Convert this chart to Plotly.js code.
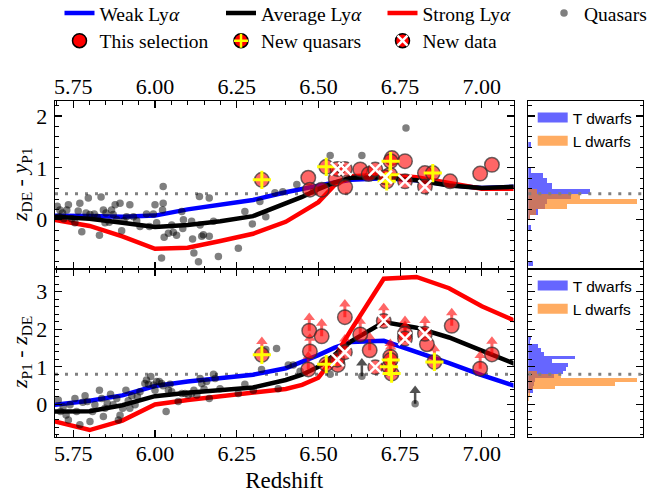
<!DOCTYPE html>
<html>
<head>
<meta charset="utf-8">
<script src="https://cdn.plot.ly/plotly-3.0.1.min.js"></script>
<style>
  html, body { margin: 0; padding: 0; background: #ffffff; }
  #chart { width: 670px; height: 493px; }
</style>
</head>
<body>
<div id="chart"></div>
<script>
// ---------- colour-track models (redshift grid) ----------
const zGrid     = [5.65, 5.70, 5.80, 5.90, 6.00, 6.10, 6.20, 6.30, 6.40, 6.45, 6.50, 6.55, 6.60, 6.70, 6.80, 6.90, 7.00, 7.10, 7.15];
const weakTop   = [0.08, 0.07, 0.07, 0.06, 0.08, 0.20, 0.30, 0.38, 0.53, 0.60, 0.66, 0.72, 0.77, 0.80, 0.76, 0.67, 0.61, 0.64, 0.65];
const avgTop    = [0.07, 0.06, 0.02, -0.06, -0.14, -0.10, -0.03, 0.07, 0.31, 0.44, 0.59, 0.72, 0.81, 0.82, 0.76, 0.66, 0.61, 0.64, 0.65];
const strongTop = [0.03, -0.01, -0.12, -0.32, -0.56, -0.54, -0.41, -0.27, -0.04, 0.15, 0.34, 0.67, 0.84, 0.87, 0.82, 0.71, 0.60, 0.60, 0.60];
const weakBot   = [-0.05, 0.00, 0.10, 0.24, 0.49, 0.61, 0.70, 0.79, 0.96, 1.12, 1.31, 1.51, 1.66, 1.69, 1.41, 1.10, 0.78, 0.50, 0.35];
const avgBot    = [-0.19, -0.19, -0.18, -0.02, 0.22, 0.31, 0.38, 0.45, 0.65, 0.79, 1.00, 1.32, 1.68, 2.19, 2.04, 1.78, 1.43, 1.08, 0.91];
const strongBot = [-0.36, -0.46, -0.68, -0.43, 0.00, 0.12, 0.21, 0.30, 0.41, 0.52, 0.71, 1.27, 1.98, 3.34, 3.39, 3.09, 2.61, 2.23, 2.03];

// ---------- known quasars ----------
const qsoTopZ = [5.701, 5.709, 5.717, 5.730, 5.735, 5.721, 5.707, 5.745, 5.755, 5.765, 5.770, 5.776, 5.789, 5.796, 5.801, 5.814, 5.823, 5.830, 5.835, 5.842, 5.847, 5.850, 5.860, 5.867, 5.872, 5.878, 5.883, 5.893, 5.898, 5.905, 5.913, 5.923, 5.934, 5.944, 5.954, 5.974, 5.983, 5.995, 6.000, 6.005, 6.020, 6.023, 6.025, 6.025, 6.028, 6.041, 6.051, 6.056, 6.066, 6.082, 6.085, 6.087, 6.112, 6.115, 6.119, 6.133, 6.136, 6.138, 6.143, 6.148, 6.166, 6.166, 6.179, 6.194, 6.255, 6.275, 6.298, 6.321, 6.339, 6.367, 6.391, 6.434, 6.485, 6.536, 6.633, 6.768];
const qsoTopC = [0.26, 0.19, 0.13, 0.19, 0.29, 0.02, 0.06, 0.02, -0.06, 0.17, 0.32, -0.23, 0.13, 0.42, 0.10, 0.11, 0.05, -0.30, 0.44, 0.19, -0.06, 0.13, -0.05, 0.19, 0.10, 0.29, 0.00, 0.32, -0.21, -0.02, 0.06, 0.29, 0.06, -0.02, -0.13, 0.11, -0.13, 0.11, 0.29, -0.06, -0.74, 0.19, 0.32, 0.64, -0.34, -0.26, -0.10, -0.24, -0.30, 0.16, -0.17, 0.00, -0.03, -0.37, -0.64, -0.81, 0.45, -0.10, -0.32, -0.29, 0.42, -0.32, -0.03, -0.71, -0.55, 0.16, -0.08, 0.35, 0.06, 0.52, 0.54, 0.68, 0.55, 1.24, 1.24, 1.77];
const qsoBotZ = [5.704, 5.711, 5.719, 5.728, 5.735, 5.740, 5.755, 5.760, 5.770, 5.779, 5.786, 5.793, 5.801, 5.809, 5.816, 5.830, 5.837, 5.842, 5.847, 5.854, 5.864, 5.872, 5.883, 5.888, 5.893, 5.901, 5.911, 5.918, 5.923, 5.929, 5.939, 5.946, 5.954, 5.969, 5.974, 5.980, 5.987, 5.995, 6.000, 6.005, 6.013, 6.020, 6.025, 6.034, 6.041, 6.046, 6.051, 6.071, 6.082, 6.092, 6.102, 6.112, 6.119, 6.128, 6.138, 6.143, 6.150, 6.158, 6.166, 6.179, 6.184, 6.199, 6.255, 6.275, 6.301, 6.326, 6.339, 6.372, 6.377, 6.408, 6.423, 6.444, 6.536];
const qsoBotC = [0.12, -0.19, -0.06, -0.28, -0.41, -0.01, 0.16, -0.19, -0.54, 0.06, 0.23, 0.08, -0.45, -0.19, -0.01, 0.38, 0.16, -0.32, -0.10, 0.03, 0.27, -0.01, 0.16, -0.41, -0.29, -0.10, 0.38, 0.10, -0.10, 0.23, -0.01, 0.21, 0.34, 0.56, 0.65, 0.54, 0.74, 0.52, 0.38, 0.61, 0.61, 0.56, 0.50, -0.19, 0.38, 0.54, 0.34, 0.08, 0.29, 0.29, 0.25, 0.29, 0.38, 0.25, 0.69, 0.56, 0.41, 0.61, 0.16, 0.80, 0.69, 0.42, 0.29, 0.54, 0.38, 0.93, 1.46, 1.49, 0.42, 1.05, 1.05, 0.88, 0.80];
// quasars with z_P1 - z_DE lower limits
const qsoLimZ = [6.633, 6.796];
const qsoLimC = [0.75, 0.02];

// ---------- this selection: z_DE - y_P1 ----------
const selTopZ     = [6.469, 6.474, 6.510, 6.553, 6.582, 6.628, 6.654, 6.725, 6.765, 6.826, 6.903, 6.995, 7.031];
const selTopC     = [0.81, 0.58, 0.58, 0.79, 0.63, 0.97, 0.88, 1.19, 1.13, 0.90, 0.74, 0.89, 1.06];
const newQsoTopZ  = [6.327, 6.524, 6.709, 6.719, 6.721, 6.850];
const newQsoTopC  = [0.77, 1.02, 0.74, 0.87, 1.13, 0.90];
const newDataTopZ = [6.558, 6.581, 6.674, 6.705, 6.765, 6.826];
const newDataTopC = [0.98, 0.98, 0.97, 0.82, 0.74, 0.64];

// ---------- this selection: z_P1 - z_DE (1 = lower limit) ----------
const selBotZ       = [6.469, 6.472, 6.474, 6.510, 6.559, 6.581, 6.628, 6.657, 6.720, 6.765, 6.832, 6.908, 6.995, 7.031];
const selBotC       = [0.93, 1.96, 1.41, 1.81, 1.05, 2.32, 1.86, 1.44, 1.27, 1.88, 1.60, 2.09, 0.95, 1.33];
const selBotLim     = [1, 1, 1, 1, 0, 1, 1, 1, 1, 1, 0, 1, 1, 1];
const newQsoBotZ    = [6.327, 6.524, 6.724, 6.716, 6.721, 6.855];
const newQsoBotC    = [1.32, 1.07, 0.82, 1.00, 1.18, 1.13];
const newQsoBotLim  = [1, 0, 0, 0, 1, 1];
const newDataBotZ   = [6.558, 6.581, 6.674, 6.700, 6.765, 6.826];
const newDataBotC   = [1.19, 1.39, 0.99, 2.22, 1.75, 1.88];
const newDataBotLim = [0, 1, 0, 1, 1, 1];

// ---------- brown-dwarf colour histograms ----------
const histTopBins = [1.45, 0.95, 0.85, 0.75, 0.65, 0.55, 0.45, 0.35, 0.25, 0.15, 0.05, -0.15, -0.85];
const tDwarfTop   = [2.7, 2.7, 14.3, 18.3, 23.3, 61.7, 42.7, 18.3, 16.7, 9.3, 2.0, 2.7, 4.3];
const lDwarfTop   = [0, 0, 0, 0, 0, 8.3, 51.7, 109.3, 39.3, 7.7, 2.0, 0, 0];
const histBotBins = [1.75, 1.65, 1.55, 1.45, 1.35, 1.25, 1.15, 1.05, 0.95, 0.85, 0.75, 0.65, 0.55, 0.45, 0.35, 0.25, 0.15];
const tDwarfBot   = [2.7, 2.0, 9.3, 12.3, 15.7, 46.7, 23.3, 40.0, 37.7, 34.3, 25.7, 6.7, 6.0, 5.0, 5.0, 0, 0];
const lDwarfBot   = [0, 0, 0, 0, 0, 0, 0, 0, 0, 8.3, 32.7, 109.3, 87.3, 26.7, 2.0, 1.7, 0.7];
const histBinWidth = 0.1;

// selection cuts
const cutTop = 0.5;
const cutBot = 0.8;

// ---------- styling ----------
const SERIF = '"Liberation Serif", "Times New Roman", Times, serif';
const SANS = '"Liberation Sans", Arial, Helvetica, sans-serif';
const RED_FILL = 'rgba(255,0,0,0.6)';
const RED_EDGE = 'rgba(45,45,45,0.7)';
const GREY_DOT = 'rgba(0,0,0,0.5)';
const T_COL = 'rgba(0,0,255,0.6)';
const L_COL = 'rgba(255,127,14,0.65)';
const ARROW_SHAFT = 0.29;   // arrow shaft length, y units of the lower panel
const ARROW_HEAD = 0.35;    // arrow head centre offset

function pick(arr, flags) { return arr.filter((_, i) => flags[i]); }
function shift(arr, d) { return arr.map(v => v + d); }

const traces = [];

function modelLines(xa, ya, weak, avg, strong, legendOn) {
  traces.push({x: zGrid, y: weak, xaxis: xa, yaxis: ya, mode: 'lines', name: 'Weak Ly<i>α</i>',
    line: {color: '#0000ff', width: 4.5}, showlegend: legendOn, legend: 'legend', legendrank: 1, hoverinfo: 'skip'});
  traces.push({x: zGrid, y: strong, xaxis: xa, yaxis: ya, mode: 'lines', name: 'Strong Ly<i>α</i>',
    line: {color: '#ff0000', width: 4.5}, showlegend: legendOn, legend: 'legend', legendrank: 3, hoverinfo: 'skip'});
  traces.push({x: zGrid, y: avg, xaxis: xa, yaxis: ya, mode: 'lines', name: 'Average Ly<i>α</i>',
    line: {color: '#000000', width: 4.5}, showlegend: legendOn, legend: 'legend', legendrank: 2, hoverinfo: 'skip'});
}
modelLines('x2', 'y2', weakTop, avgTop, strongTop, true);
modelLines('x', 'y', weakBot, avgBot, strongBot, false);

// known quasars
traces.push({x: qsoTopZ, y: qsoTopC, xaxis: 'x2', yaxis: 'y2', mode: 'markers', name: 'Quasars',
  marker: {color: GREY_DOT, size: 7.5}, legend: 'legend', legendrank: 4});
traces.push({x: qsoBotZ, y: qsoBotC, xaxis: 'x', yaxis: 'y', mode: 'markers', showlegend: false,
  marker: {color: GREY_DOT, size: 7.5}});
// lower-limit arrows for known quasars
traces.push({x: qsoLimZ, y: qsoLimC, xaxis: 'x', yaxis: 'y', mode: 'markers', showlegend: false,
  marker: {color: GREY_DOT, size: 7.5},
  error_y: {type: 'data', symmetric: false, array: qsoLimZ.map(() => ARROW_SHAFT), arrayminus: qsoLimZ.map(() => 0),
            color: 'rgba(50,50,50,0.85)', thickness: 2.5, width: 0}});
traces.push({x: qsoLimZ, y: shift(qsoLimC, ARROW_HEAD), xaxis: 'x', yaxis: 'y', mode: 'markers', showlegend: false,
  marker: {symbol: 'triangle-up', size: 10, color: 'rgba(50,50,50,0.85)'}});

// lower-limit arrows for this selection
const limZ = pick(selBotZ, selBotLim).concat(pick(newQsoBotZ, newQsoBotLim), pick(newDataBotZ, newDataBotLim));
const limC = pick(selBotC, selBotLim).concat(pick(newQsoBotC, newQsoBotLim), pick(newDataBotC, newDataBotLim));
traces.push({x: limZ, y: limC, xaxis: 'x', yaxis: 'y', mode: 'markers', showlegend: false,
  marker: {size: 1, opacity: 0},
  error_y: {type: 'data', symmetric: false, array: limZ.map(() => ARROW_SHAFT), arrayminus: limZ.map(() => 0),
            color: RED_FILL, thickness: 3, width: 0}});
traces.push({x: limZ, y: shift(limC, ARROW_HEAD), xaxis: 'x', yaxis: 'y', mode: 'markers', showlegend: false,
  marker: {symbol: 'triangle-up', size: 10, color: RED_FILL}});

// red circles for every selected object
function circles(xa, ya, z, c) {
  traces.push({x: z, y: c, xaxis: xa, yaxis: ya, mode: 'markers', showlegend: false,
    marker: {symbol: 'circle', size: 14.5, color: RED_FILL, line: {color: RED_EDGE, width: 1.5}}});
}
circles('x2', 'y2', selTopZ.concat(newQsoTopZ, newDataTopZ), selTopC.concat(newQsoTopC, newDataTopC));
circles('x', 'y', selBotZ.concat(newQsoBotZ, newDataBotZ), selBotC.concat(newQsoBotC, newDataBotC));

// glyphs for new quasars (+) and new data (x)
function glyphs(xa, ya, z, c, sym, col, lw) {
  traces.push({x: z, y: c, xaxis: xa, yaxis: ya, mode: 'markers', showlegend: false,
    marker: {symbol: sym, size: 13, color: col, line: {color: col, width: lw}}});
}
glyphs('x2', 'y2', newQsoTopZ, newQsoTopC, 'cross-thin-open', '#ffff00', 3);
glyphs('x', 'y', newQsoBotZ, newQsoBotC, 'cross-thin-open', '#ffff00', 3);
glyphs('x2', 'y2', newDataTopZ, newDataTopC, 'x-thin-open', '#ffffff', 2.5);
glyphs('x', 'y', newDataBotZ, newDataBotC, 'x-thin-open', '#ffffff', 2.5);

// legend keys for the selection (second row)
const legendDisc = {symbol: 'circle', size: 14, color: '#ff0000', line: {color: '#000000', width: 1.5}};
['This selection', 'New quasars', 'New data'].forEach((nm, i) => {
  traces.push({x: [null], y: [null], xaxis: 'x', yaxis: 'y', mode: 'markers', name: nm,
    marker: legendDisc, legend: 'legend2', legendrank: i + 1});
});
traces.push({x: [null], y: [null], xaxis: 'x', yaxis: 'y', mode: 'markers', name: 'New quasars',
  marker: {symbol: 'cross-thin-open', size: 10, color: '#ffff00', line: {color: '#ffff00', width: 2.5}},
  legend: 'legend3', legendrank: 1});
traces.push({x: [null], y: [null], xaxis: 'x', yaxis: 'y', mode: 'markers', name: 'New data',
  marker: {symbol: 'x-thin-open', size: 10, color: '#ffffff', line: {color: '#ffffff', width: 2.5}},
  legend: 'legend3', legendrank: 2});

// histograms
function hist(xa, ya, bins, t, l, lg) {
  traces.push({type: 'bar', orientation: 'h', y: bins, x: t, width: histBinWidth, xaxis: xa, yaxis: ya,
    marker: {color: T_COL, line: {width: 0}}, showlegend: false, hoverinfo: 'skip'});
  traces.push({type: 'bar', orientation: 'h', y: bins, x: l, width: histBinWidth, xaxis: xa, yaxis: ya,
    marker: {color: L_COL, line: {width: 0}}, showlegend: false, hoverinfo: 'skip'});
  traces.push({x: [null], y: [null], xaxis: xa, yaxis: ya, mode: 'lines', name: 'T dwarfs',
    line: {color: T_COL, width: 12}, legend: lg, legendrank: 1});
  traces.push({x: [null], y: [null], xaxis: xa, yaxis: ya, mode: 'lines', name: 'L dwarfs',
    line: {color: L_COL, width: 12}, legend: lg, legendrank: 2});
}
hist('x3', 'y3', histTopBins, tDwarfTop, lDwarfTop, 'legend4');
hist('x4', 'y4', histBotBins, tDwarfBot, lDwarfBot, 'legend5');

// ---------- axes ----------
const W = 643;  // plot width (l = 0, r = 27)
const mainDom = [55 / W, 513.5 / W];
const histDom = [528.3 / W, 1];
const zRange = [5.694, 7.097];
const rangeTop = [-0.95, 2.29];
const rangeBot = [-0.865, 3.6];

const frame = {showline: true, linecolor: '#000000', linewidth: 1.3, showgrid: false, zeroline: false};
const tickStyle = {ticks: 'inside', ticklen: 7, tickwidth: 1.2, tickcolor: '#000000', mirror: 'allticks',
  tickfont: {family: SERIF, size: 22, color: '#000000'}};
function minor(d) { return {dtick: d, ticks: 'inside', ticklen: 3.5, tickwidth: 1, tickcolor: '#000000'}; }

const xCommon = Object.assign({}, frame, tickStyle, {range: zRange, tick0: 5.75, dtick: 0.25, tickformat: '.2f',
  minor: Object.assign(minor(0.05), {tick0: 5.75})});
const yTitleFont = {family: SERIF, size: 22, color: '#000000'};

const layout = {
  width: 670, height: 493,
  margin: {l: 0, r: 27, t: 101, b: 56, autoexpand: false},
  paper_bgcolor: '#ffffff', plot_bgcolor: 'rgba(0,0,0,0)',
  font: {family: SERIF, size: 22, color: '#000000'},
  showlegend: true,
  barmode: 'overlay', bargap: 0,
  xaxis: Object.assign({}, xCommon, {domain: mainDom, anchor: 'y', side: 'bottom', ticklabelstandoff: -4,
    title: {text: 'Redshift', font: {family: SERIF, size: 23, color: '#000000'}, standoff: 8}}),
  xaxis2: Object.assign({}, xCommon, {domain: mainDom, anchor: 'y2', side: 'top', ticklabelstandoff: -3}),
  yaxis: Object.assign({}, frame, tickStyle, {domain: [0, 0.5], anchor: 'x', range: rangeBot, tick0: 0, dtick: 1,
    minor: minor(0.2), ticklabelstandoff: 2}),
  yaxis2: Object.assign({}, frame, tickStyle, {domain: [0.5, 1], anchor: 'x2', range: rangeTop, tick0: 0, dtick: 1,
    minor: minor(0.2), ticklabelstandoff: 2}),
  xaxis3: Object.assign({}, frame, {domain: histDom, anchor: 'y3', range: [0, 115], ticks: '', showticklabels: false, mirror: true}),
  yaxis3: Object.assign({}, frame, tickStyle, {domain: [0.5, 1], anchor: 'x3', range: rangeTop, tick0: 0, dtick: 1,
    minor: minor(0.2), showticklabels: false}),
  xaxis4: Object.assign({}, frame, {domain: histDom, anchor: 'y4', range: [0, 115], ticks: '', showticklabels: false, mirror: true}),
  yaxis4: Object.assign({}, frame, tickStyle, {domain: [0, 0.5], anchor: 'x4', range: rangeBot, tick0: 0, dtick: 1,
    minor: minor(0.2), showticklabels: false}),
  annotations: [
    {text: '<i>z</i><sub>DE</sub> - <i>y</i><sub>P1</sub>', yref: 'paper', y: 0.75},
    {text: '<i>z</i><sub>P1</sub> - <i>z</i><sub>DE</sub>', yref: 'paper', y: 0.25}
  ].map(a => Object.assign(a, {xref: 'paper', x: 21 / W, xanchor: 'center', yanchor: 'middle',
    textangle: -90, showarrow: false, font: yTitleFont})),
  legend: {x: 59.5 / W, xanchor: 'left', y: 1.319, yanchor: 'top', orientation: 'h',
    entrywidth: 116.5, entrywidthmode: 'pixels', bgcolor: 'rgba(0,0,0,0)', borderwidth: 0,
    font: {family: SERIF, size: 19.5, color: '#000000'}, traceorder: 'normal'},
  legend2: {x: 59.5 / W, xanchor: 'left', y: 1.2366, yanchor: 'top', orientation: 'h',
    entrywidth: 116.5, entrywidthmode: 'pixels', bgcolor: 'rgba(0,0,0,0)', borderwidth: 0,
    font: {family: SERIF, size: 19.5, color: '#000000'}, traceorder: 'normal'},
  legend3: {x: 221 / W, xanchor: 'left', y: 1.2366, yanchor: 'top', orientation: 'h',
    entrywidth: 116.5, entrywidthmode: 'pixels', bgcolor: 'rgba(0,0,0,0)', borderwidth: 0,
    font: {family: SERIF, size: 19.5, color: 'rgba(0,0,0,0)'}, traceorder: 'normal'},
  legend4: {x: 532.7 / W, xanchor: 'left', y: 1.0, yanchor: 'top', orientation: 'v',
    bgcolor: 'rgba(0,0,0,0)', borderwidth: 0, font: {family: SANS, size: 15.5, color: '#000000'}, traceorder: 'normal'},
  legend5: {x: 532.7 / W, xanchor: 'left', y: 0.5, yanchor: 'top', orientation: 'v',
    bgcolor: 'rgba(0,0,0,0)', borderwidth: 0, font: {family: SANS, size: 15.5, color: '#000000'}, traceorder: 'normal'},
  shapes: [
    ['x2 domain', 'y2', cutTop, 'below'], ['x3 domain', 'y3', cutTop, 'above'],
    ['x domain', 'y', cutBot, 'below'], ['x4 domain', 'y4', cutBot, 'above']
  ].map(([xr, yr, v, layer]) => ({type: 'line', xref: xr, yref: yr, x0: 0, x1: 1, y0: v, y1: v, layer: layer,
    line: {color: '#808080', width: 3, dash: '3px,7px'}}))
};

Plotly.newPlot('chart', traces, layout, {displayModeBar: false, staticPlot: true});
</script>
</body>
</html>
